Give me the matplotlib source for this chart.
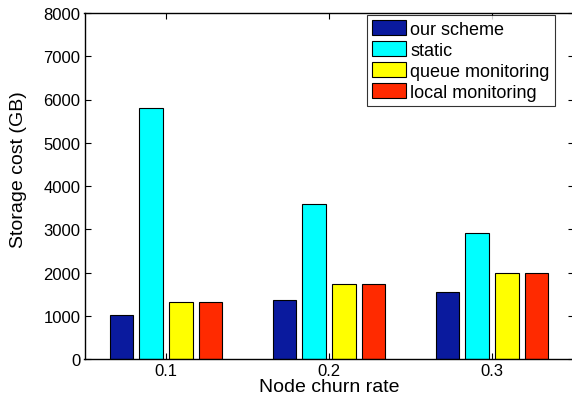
import matplotlib
matplotlib.use("Agg")
import matplotlib.pyplot as plt
import numpy as np

plt.rcParams['font.family'] = ['Liberation Sans', 'DejaVu Sans']

categories = ["0.1", "0.2", "0.3"]
x_values = [0.1, 0.2, 0.3]
series_names = ["our scheme", "static", "queue monitoring", "local monitoring"]
our_scheme = [1010, 1360, 1540]
static = [5800, 3580, 2910]
queue_monitoring = [1310, 1730, 2000]
local_monitoring = [1310, 1730, 2000]
colors = ["#0a1a9e", "#00ffff", "#ffff00", "#ff2a00"]

fig = plt.figure(figsize=(5.72, 4.02), dpi=100)
ax = fig.add_axes([84.5/572, 1 - 360/402, (573.5 - 84.5)/572, (360 - 14)/402])

spacing = 0.0182
width = 0.0144
offsets = [-1.5, -0.5, 0.5, 1.5]
all_series = [our_scheme, static, queue_monitoring, local_monitoring]
x = np.array(x_values)
for s, off, c, name in zip(all_series, offsets, colors, series_names):
    ax.bar(x + off*spacing, s, width=width, color=c, edgecolor="black",
           linewidth=0.8, label=name)

ax.set_xlim(0.05, 0.35)
ax.set_ylim(0, 8000)
ax.set_xticks(x_values)
ax.set_xticklabels(categories)
ax.set_yticks(range(0, 8001, 1000))
ax.tick_params(direction="in", length=4, width=0.8, top=True, right=True,
               labelsize=12, pad=3)
for sp in ax.spines.values():
    sp.set_linewidth(1.0)
ax.set_xlabel("Node churn rate", fontsize=14, labelpad=0)
ax.set_ylabel("Storage cost (GB)", fontsize=14)
ax.yaxis.set_label_coords(-0.118, 0.55)

leg = ax.legend(loc="upper left", bbox_to_anchor=((367-84.5)/489, 1 - (15.7-14)/346),
                fontsize=13, frameon=True, fancybox=False, borderaxespad=0,
                handlelength=1.85, handleheight=0.9, handletextpad=0.25,
                labelspacing=0.18, borderpad=0.3)
leg.get_frame().set_edgecolor("black")
leg.get_frame().set_linewidth(0.8)

fig.savefig("out.png", dpi=100)
